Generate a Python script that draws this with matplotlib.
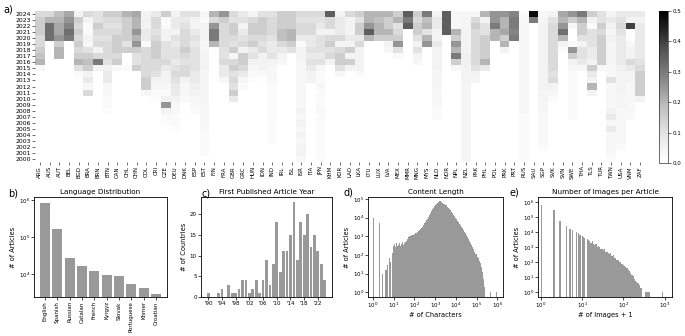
import numpy as np
import matplotlib.pyplot as plt

plt.rcParams['font.family'] = 'DejaVu Sans'

# ---- panel a: share of each country's articles per year ----
countries = ['ARG', 'AUS', 'AUT', 'BEL', 'BGD', 'BRA', 'BRN', 'BTN', 'CAN', 'CHL',
             'CHN', 'COL', 'CRI', 'CZE', 'DEU', 'DNK', 'ESP', 'EST', 'FIN', 'FRA',
             'GBR', 'GRC', 'HUN', 'IDN', 'IND', 'IRL', 'ISL', 'ISR', 'ITA', 'JPN',
             'KHM', 'KOR', 'LAO', 'LKA', 'LTU', 'LUX', 'LVA', 'MEX', 'MMR', 'MNG',
             'MYS', 'NLD', 'NOR', 'NPL', 'NZL', 'PAK', 'PHL', 'POL', 'PRK', 'PRT',
             'RUS', 'SAU', 'SGP', 'SVK', 'SVN', 'SWE', 'THA', 'TLS', 'TUR', 'TWN',
             'USA', 'VNM', 'ZAF']
years = list(range(2024, 1999, -1))

# values x100, one row per country, years 2024 -> 2000
share = [
    [12, 15, 15, 15, 12, 12, 15, 17, 20, 3, 0, 0, 0, 0, 0, 0, 0, 0, 0, 0, 0, 0, 0, 0, 0],
    [12, 20, 32, 32, 32, 0, 0, 0, 0, 0, 0, 0, 0, 0, 0, 0, 0, 0, 0, 0, 0, 0, 0, 0, 0],
    [18, 20, 22, 22, 25, 15, 20, 20, 0, 0, 0, 0, 0, 0, 0, 0, 0, 0, 0, 0, 0, 0, 0, 0, 0],
    [22, 25, 28, 32, 30, 0, 0, 0, 0, 0, 0, 0, 0, 0, 0, 0, 0, 0, 0, 0, 0, 0, 0, 0, 0],
    [5, 15, 12, 15, 12, 15, 12, 15, 20, 10, 2, 0, 0, 0, 0, 0, 0, 0, 0, 0, 0, 0, 0, 0, 0],
    [12, 5, 2, 2, 5, 3, 10, 15, 18, 15, 5, 8, 3, 12, 0, 0, 0, 0, 0, 0, 0, 0, 0, 0, 0],
    [10, 10, 15, 12, 10, 12, 5, 12, 30, 5, 0, 0, 0, 0, 0, 0, 0, 0, 0, 0, 0, 0, 0, 0, 0],
    [15, 12, 10, 12, 10, 12, 12, 12, 10, 5, 8, 8, 3, 3, 2, 2, 1, 0, 0, 0, 0, 0, 0, 0, 0],
    [15, 12, 10, 12, 15, 15, 15, 12, 15, 3, 0, 0, 0, 0, 0, 0, 0, 0, 0, 0, 0, 0, 0, 0, 0],
    [20, 15, 15, 15, 15, 10, 15, 0, 0, 2, 0, 0, 0, 0, 0, 0, 0, 0, 0, 0, 0, 0, 0, 0, 0],
    [22, 20, 20, 25, 20, 25, 15, 10, 10, 15, 0, 0, 0, 0, 0, 0, 0, 0, 0, 0, 0, 0, 0, 0, 0],
    [5, 5, 5, 8, 8, 2, 12, 12, 12, 12, 12, 15, 15, 3, 0, 0, 0, 0, 0, 0, 0, 0, 0, 0, 0],
    [8, 12, 12, 10, 12, 15, 15, 15, 12, 12, 10, 5, 3, 2, 1, 0, 0, 0, 0, 0, 0, 0, 0, 0, 0],
    [15, 2, 2, 5, 5, 10, 10, 10, 12, 8, 5, 5, 3, 2, 5, 25, 5, 2, 1, 0, 0, 0, 0, 0, 0],
    [5, 8, 8, 5, 10, 8, 10, 10, 8, 10, 12, 10, 8, 8, 5, 3, 3, 2, 2, 1, 0, 0, 0, 0, 0],
    [10, 8, 10, 12, 12, 12, 15, 12, 10, 12, 12, 5, 3, 3, 2, 0, 0, 0, 0, 0, 0, 0, 0, 0, 0],
    [10, 5, 5, 8, 10, 8, 10, 10, 10, 10, 8, 8, 6, 5, 3, 3, 2, 0, 0, 0, 0, 0, 0, 0, 0],
    [3, 2, 5, 5, 5, 3, 3, 5, 5, 5, 4, 4, 4, 4, 4, 3, 3, 3, 3, 3, 2, 2, 2, 2, 0],
    [20, 12, 25, 30, 30, 20, 0, 0, 0, 0, 0, 0, 0, 0, 0, 0, 0, 0, 0, 0, 0, 0, 0, 0, 0],
    [25, 15, 12, 12, 12, 12, 10, 10, 12, 8, 8, 3, 0, 0, 0, 0, 0, 0, 0, 0, 0, 0, 0, 0, 0],
    [12, 10, 15, 15, 12, 10, 15, 3, 12, 15, 10, 12, 10, 15, 8, 0, 0, 0, 0, 0, 0, 0, 0, 0, 0],
    [8, 10, 5, 8, 10, 12, 5, 15, 15, 12, 8, 3, 2, 0, 0, 0, 0, 0, 0, 0, 0, 0, 0, 0, 0],
    [5, 12, 15, 15, 12, 15, 8, 10, 5, 3, 2, 1, 0, 0, 0, 0, 0, 0, 0, 0, 0, 0, 0, 0, 0],
    [10, 15, 15, 15, 12, 10, 12, 5, 5, 5, 2, 0, 0, 0, 0, 0, 0, 0, 0, 0, 0, 0, 0, 0, 0],
    [10, 12, 12, 12, 10, 8, 8, 10, 5, 3, 3, 3, 2, 2, 2, 2, 2, 2, 1, 1, 1, 1, 0, 0, 0],
    [15, 15, 15, 18, 18, 12, 8, 5, 3, 0, 0, 0, 0, 0, 0, 0, 0, 0, 0, 0, 0, 0, 0, 0, 0],
    [15, 15, 15, 20, 20, 15, 10, 0, 0, 0, 0, 0, 0, 0, 0, 0, 0, 0, 0, 0, 0, 0, 0, 0, 0],
    [12, 10, 12, 12, 8, 2, 5, 5, 3, 3, 3, 3, 3, 3, 3, 3, 5, 3, 5, 3, 5, 3, 5, 5, 3],
    [12, 10, 12, 12, 8, 8, 10, 8, 10, 8, 5, 5, 0, 0, 0, 0, 0, 0, 0, 0, 0, 0, 0, 0, 0],
    [12, 10, 8, 5, 10, 10, 10, 8, 10, 3, 2, 2, 3, 2, 2, 2, 3, 2, 2, 2, 2, 2, 2, 2, 1],
    [35, 12, 12, 5, 12, 15, 10, 12, 5, 0, 0, 0, 0, 0, 0, 0, 0, 0, 0, 0, 0, 0, 0, 0, 0],
    [5, 8, 8, 8, 12, 5, 12, 15, 15, 10, 3, 0, 0, 0, 0, 0, 0, 0, 0, 0, 0, 0, 0, 0, 0],
    [12, 5, 5, 5, 8, 5, 15, 5, 15, 5, 0, 0, 0, 0, 0, 0, 0, 0, 0, 0, 0, 0, 0, 0, 0],
    [15, 10, 15, 15, 8, 12, 5, 5, 5, 5, 2, 0, 0, 0, 0, 0, 0, 0, 0, 0, 0, 0, 0, 0, 0],
    [20, 20, 25, 35, 20, 0, 0, 0, 0, 0, 0, 0, 0, 0, 0, 0, 0, 0, 0, 0, 0, 0, 0, 0, 0],
    [20, 18, 20, 20, 15, 0, 0, 0, 0, 0, 0, 0, 0, 0, 0, 0, 0, 0, 0, 0, 0, 0, 0, 0, 0],
    [20, 15, 15, 20, 15, 5, 3, 0, 0, 0, 0, 0, 0, 0, 0, 0, 0, 0, 0, 0, 0, 0, 0, 0, 0],
    [15, 20, 10, 12, 15, 25, 10, 2, 0, 0, 0, 0, 0, 0, 0, 0, 0, 0, 0, 0, 0, 0, 0, 0, 0],
    [35, 30, 35, 0, 0, 0, 0, 0, 0, 0, 0, 0, 0, 0, 0, 0, 0, 0, 0, 0, 0, 0, 0, 0, 0],
    [15, 12, 15, 15, 10, 5, 10, 5, 3, 0, 0, 0, 0, 0, 0, 0, 0, 0, 0, 0, 0, 0, 0, 0, 0],
    [30, 18, 20, 10, 20, 25, 0, 0, 0, 0, 0, 0, 0, 0, 0, 0, 0, 0, 0, 0, 0, 0, 0, 0, 0],
    [5, 8, 8, 5, 5, 8, 5, 5, 5, 5, 4, 4, 4, 3, 3, 3, 2, 2, 0, 0, 0, 0, 0, 0, 0],
    [35, 35, 35, 35, 0, 0, 0, 0, 0, 0, 0, 0, 0, 0, 0, 0, 0, 0, 0, 0, 0, 0, 0, 0, 0],
    [3, 3, 3, 20, 15, 25, 20, 30, 15, 3, 0, 0, 0, 0, 0, 0, 0, 0, 0, 0, 0, 0, 0, 0, 0],
    [3, 4, 4, 5, 5, 5, 5, 6, 6, 5, 5, 5, 4, 4, 4, 4, 4, 4, 4, 4, 4, 4, 4, 4, 4],
    [3, 12, 15, 12, 12, 12, 12, 12, 12, 10, 5, 4, 0, 0, 0, 0, 0, 0, 0, 0, 0, 0, 0, 0, 0],
    [20, 5, 10, 10, 15, 15, 15, 15, 20, 8, 0, 0, 0, 0, 0, 0, 0, 0, 0, 0, 0, 0, 0, 0, 0],
    [25, 25, 30, 20, 20, 0, 0, 0, 0, 0, 0, 0, 0, 0, 0, 0, 0, 0, 0, 0, 0, 0, 0, 0, 0],
    [25, 20, 20, 22, 15, 20, 5, 0, 0, 0, 0, 0, 0, 0, 0, 0, 0, 0, 0, 0, 0, 0, 0, 0, 0],
    [28, 30, 30, 28, 30, 0, 0, 0, 0, 0, 0, 0, 0, 0, 0, 0, 0, 0, 0, 0, 0, 0, 0, 0, 0],
    [2, 3, 3, 3, 3, 3, 3, 3, 3, 3, 3, 3, 3, 3, 3, 3, 3, 2, 2, 2, 2, 2, 2, 2, 2],
    [48, 30, 0, 0, 0, 0, 0, 0, 0, 0, 0, 0, 0, 0, 0, 0, 0, 0, 0, 0, 0, 0, 0, 0, 0],
    [3, 4, 5, 5, 5, 5, 5, 5, 5, 5, 5, 5, 5, 4, 4, 4, 3, 3, 3, 3, 3, 3, 2, 0, 0],
    [5, 10, 12, 12, 12, 12, 12, 12, 12, 12, 10, 12, 5, 3, 2, 0, 0, 0, 0, 0, 0, 0, 0, 0, 0],
    [22, 20, 25, 32, 20, 5, 2, 0, 0, 0, 0, 0, 0, 0, 0, 0, 0, 0, 0, 0, 0, 0, 0, 0, 0],
    [25, 15, 3, 0, 0, 2, 25, 15, 5, 3, 2, 2, 2, 2, 2, 2, 2, 2, 0, 0, 0, 0, 0, 0, 0],
    [30, 20, 15, 15, 10, 5, 10, 10, 8, 3, 0, 0, 0, 0, 0, 0, 0, 0, 0, 0, 0, 0, 0, 0, 0],
    [15, 5, 2, 10, 10, 10, 8, 8, 5, 15, 8, 5, 20, 5, 0, 0, 0, 0, 0, 0, 0, 0, 0, 0, 0],
    [10, 10, 15, 12, 15, 15, 15, 15, 15, 3, 0, 0, 0, 0, 0, 0, 0, 0, 0, 0, 0, 0, 0, 0, 0],
    [5, 8, 5, 3, 5, 4, 4, 4, 4, 3, 3, 10, 3, 3, 3, 3, 5, 8, 3, 8, 3, 3, 3, 3, 2],
    [8, 10, 12, 10, 8, 8, 8, 8, 8, 6, 5, 5, 5, 4, 4, 4, 3, 3, 3, 3, 3, 3, 2, 0, 0],
    [8, 5, 40, 0, 0, 3, 5, 5, 12, 8, 5, 5, 3, 3, 3, 3, 3, 2, 0, 0, 0, 0, 0, 0, 0],
    [8, 5, 8, 8, 8, 8, 8, 8, 10, 12, 15, 15, 15, 15, 5, 0, 0, 0, 0, 0, 0, 0, 0, 0, 0],
]

# ---- panel b ----
languages = ['English', 'Spanish', 'Russian', 'Catalan', 'French', 'Kyrgyz',
             'Slovak', 'Portuguese', 'Khmer', 'Croatian']
lang_articles = [850000, 168000, 27300, 16700, 12300, 9600, 9000, 5600, 4400, 3050]

# ---- panel c ----
first_years = list(range(1990, 2025))
n_countries = [1, 0, 0, 1, 2, 0, 3, 1, 1, 2, 4, 4, 1, 2, 4, 1, 4, 9, 3, 8,
               18, 6, 11, 11, 15, 23, 9, 18, 15, 20, 12, 15, 11, 8, 4]

# ---- panel d: counts per log bin (20 bins per decade, 10^0 .. 10^6) ----
char_counts = [9000, 0, 0, 0, 0, 0, 5000, 0, 0, 10,
               0, 0, 15, 30, 0, 70, 40, 0, 130, 300,
               400, 250, 450, 300, 350, 450, 300, 400, 500, 350,
               450, 500, 550, 700, 900, 1000, 1050, 1100, 1150, 1200,
               1300, 1400, 1600, 1800, 2100, 2400, 2800, 3300, 4000, 4800,
               5800, 7000, 8500, 10500, 13000, 16500, 21000, 27000, 34000, 41000,
               48000, 56000, 63000, 68000, 72000, 72000, 68000, 62000, 56000, 50000,
               44000, 38000, 33000, 28000, 24000, 20000, 17000, 14000, 12000, 10000,
               8300, 6900, 5700, 4700, 3900, 3200, 2600, 2100, 1700, 1400,
               1100, 900, 700, 560, 440, 340, 260, 200, 150, 110,
               80, 65, 50, 35, 22, 12, 5, 2, 0, 0,
               0, 0, 0, 1, 0, 0, 0, 0, 0, 1]

# ---- panel e: counts per log bin (~33 bins per decade, 10^0 .. 10^3) ----
img_counts = [600000, 0, 0, 0, 0, 0, 0, 0, 0, 0,
              300000, 0, 0, 0, 0, 50000, 0, 0, 0, 0,
              25000, 0, 0, 17000, 0, 13000, 0, 0, 10000, 0,
              8000, 6500, 0, 5500, 4500, 4000, 0, 3300, 2800, 2500,
              2000, 2400, 1500, 1400, 1700, 1000, 1200, 1000, 800, 700,
              600, 750, 450, 500, 420, 350, 380, 260, 280, 200,
              190, 150, 140, 110, 100, 75, 70, 55, 45, 40,
              30, 25, 20, 15, 12, 8, 6, 5, 4, 3,
              2, 2, 0, 0, 1, 1, 1, 1, 0, 0,
              0, 0, 0, 0, 0, 0, 0, 0, 1, 0]

W, H = 685, 336
fig = plt.figure(figsize=(W / 100, H / 100), dpi=100)
bar_col = '#999999'
tick_fs = 4
lab_fs = 4.8


def px(x0, y0, w, h):
    return [x0 / W, 1 - (y0 + h) / H, w / W, h / H]


# heatmap
ax = fig.add_axes(px(35, 11, 610, 151))
cax = fig.add_axes(px(659, 11, 9, 152))
grid = np.array(share).T / 100.0
im = ax.imshow(grid, cmap='Greys', vmin=0, vmax=0.5, aspect='auto', interpolation='nearest')
ax.set_xticks(range(len(countries)))
ax.set_xticklabels(countries, rotation=90, fontsize=tick_fs)
ax.set_yticks(range(len(years)))
ax.set_yticklabels(years, fontsize=tick_fs + 0.4)
ax.tick_params(length=2, width=0.4, pad=1)
for s in ax.spines.values():
    s.set_visible(False)
cb = fig.colorbar(im, cax=cax)
cb.set_ticks([0, 0.1, 0.2, 0.3, 0.4, 0.5])
cb.ax.tick_params(labelsize=tick_fs, length=2, width=0.4, pad=1)
cb.outline.set_linewidth(0.4)
fig.text(3 / W, 1 - 12 / H, 'a)', fontsize=7)


def style(a):
    for s in a.spines.values():
        s.set_linewidth(0.6)
    a.tick_params(labelsize=tick_fs, length=2, width=0.5, pad=1)
    a.minorticks_off()


# b
ax_b = fig.add_axes(px(34, 197, 133, 100))
ax_b.bar(range(len(languages)), lang_articles, width=0.8, color=bar_col)
ax_b.set_yscale('log')
ax_b.set_ylim(2470, 1.2e6)
ax_b.set_xticks(range(len(languages)))
ax_b.set_xticklabels(languages, rotation=90)
ax_b.set_ylabel('# of Articles', fontsize=lab_fs, labelpad=2)
ax_b.set_title('Language Distribution', fontsize=5.2, pad=2)
style(ax_b)
fig.text(8 / W, 1 - 197 / H, 'b)', fontsize=7)

# c
ax_c = fig.add_axes(px(201, 197, 131, 100))
ax_c.bar(first_years, n_countries, width=0.8, color=bar_col)
ax_c.set_xticks(range(1990, 2025, 4))
ax_c.set_xticklabels(["'%02d" % (y % 100) for y in range(1990, 2025, 4)])
ax_c.set_yticks([0, 5, 10, 15, 20])
ax_c.set_ylabel('# of Countries', fontsize=lab_fs, labelpad=2)
ax_c.set_title('First Published Article Year', fontsize=5.2, pad=2)
style(ax_c)
fig.text(201 / W, 1 - 197 / H, 'c)', fontsize=7)

# d
ax_d = fig.add_axes(px(368, 197, 135, 100))
char_edges = np.logspace(0, 6, len(char_counts) + 1)
ax_d.hist(char_edges[:-1], bins=char_edges, weights=char_counts, color=bar_col,
          linewidth=0)
ax_d.set_xscale('log')
ax_d.set_yscale('log')
ax_d.set_xlim(0.57, 1.9e6)
ax_d.set_ylim(0.56, 1.25e5)
ax_d.set_xticks([10.0 ** k for k in range(7)])
ax_d.set_yticks([10.0 ** k for k in range(6)])
ax_d.set_xlabel('# of Characters', fontsize=lab_fs, labelpad=1)
ax_d.set_ylabel('# of Articles', fontsize=lab_fs, labelpad=2)
ax_d.set_title('Content Length', fontsize=5.2, pad=2)
style(ax_d)
fig.text(344 / W, 1 - 195 / H, 'd)', fontsize=7)

# e
ax_e = fig.add_axes(px(538, 197, 134, 100))
img_edges = np.logspace(0, 3, len(img_counts) + 1)
ax_e.hist(img_edges[:-1], bins=img_edges, weights=img_counts, color=bar_col,
          linewidth=0)
ax_e.set_xscale('log')
ax_e.set_yscale('log')
ax_e.set_xlim(0.85, 1500)
ax_e.set_ylim(0.49, 2.1e6)
ax_e.set_xticks([10.0 ** k for k in range(4)])
ax_e.set_yticks([10.0 ** k for k in range(7)])
ax_e.set_xlabel('# of Images + 1', fontsize=lab_fs, labelpad=1)
ax_e.set_ylabel('# of Articles', fontsize=lab_fs, labelpad=2)
ax_e.set_title('Number of Images per Article', fontsize=5.2, pad=2)
style(ax_e)
fig.text(510 / W, 1 - 195 / H, 'e)', fontsize=7)

fig.savefig('out.png', dpi=100)
